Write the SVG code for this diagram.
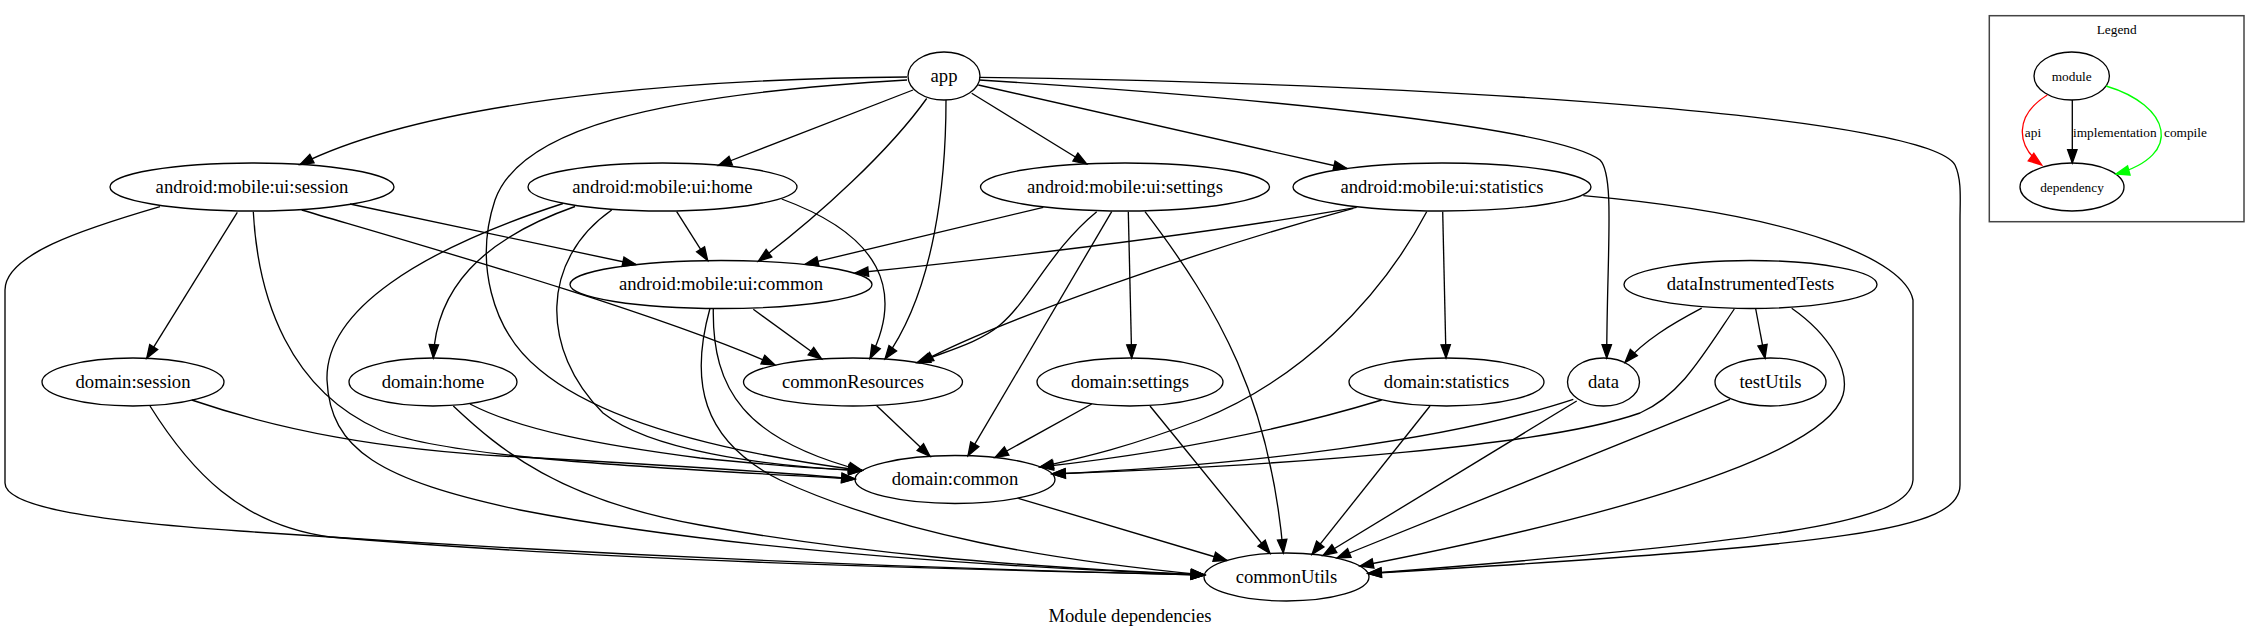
<svg xmlns="http://www.w3.org/2000/svg" width="2260" height="639" viewBox="0 0 2260 639">
<style>
.nd ellipse{fill:none;stroke:#000;stroke-width:1.33}
.nd text{font-family:"Liberation Serif","Times New Roman",serif;font-size:18.67px;text-anchor:middle;fill:#000}
.lg ellipse{fill:none;stroke:#000;stroke-width:1.33}
.lg text{font-family:"Liberation Serif","Times New Roman",serif;font-size:13.33px;fill:#000}
#edges path{fill:none;stroke:#000;stroke-width:1.33;marker-end:url(#ah)}
.title{font-family:"Liberation Serif","Times New Roman",serif;font-size:18.67px;text-anchor:middle}
</style>
<defs>
<marker id="ah" viewBox="-2 -2 18 13.4" markerWidth="18" markerHeight="13.4" refX="13.3" refY="4.7" orient="auto" markerUnits="userSpaceOnUse"><path d="M0,0 L13.3,4.7 L0,9.4 Z" fill="#000" stroke="#000" stroke-width="1.33"/></marker>
<marker id="ahr" viewBox="-2 -2 18 13.4" markerWidth="18" markerHeight="13.4" refX="13.3" refY="4.7" orient="auto" markerUnits="userSpaceOnUse"><path d="M0,0 L13.3,4.7 L0,9.4 Z" fill="#f00" stroke="#f00" stroke-width="1.33"/></marker>
<marker id="ahg" viewBox="-2 -2 18 13.4" markerWidth="18" markerHeight="13.4" refX="13.3" refY="4.7" orient="auto" markerUnits="userSpaceOnUse"><path d="M0,0 L13.3,4.7 L0,9.4 Z" fill="#0f0" stroke="#0f0" stroke-width="1.33"/></marker>
</defs>
<rect x="0" y="0" width="2260" height="639" fill="#fff"/>

<g id="edges">
<path d="M907,77 C760,78 450,90 300,164.5"/>
<path d="M907,80 C650,95 520,130 495,200 C475,260 490,330 540,370 C600,420 720,452 862,470.5"/>
<path d="M913,90 L718.3,165.5"/>
<path d="M926.7,98.5 C890,150 820,215 758.3,261.2"/>
<path d="M946,100 C946,180 935,290 885,359"/>
<path d="M971.7,93.3 L1086.7,164"/>
<path d="M978.3,85 L1347,168.5"/>
<path d="M979.3,80 C1300,100 1560,130 1600,160 C1615,175 1607,250 1606.7,358"/>
<path d="M979.3,77.3 C1500,85 1930,120 1955,165 C1962,180 1960,200 1960,220 L1960,485 C1960,530 1850,545 1368,573.5"/>

<path d="M237.3,212.3 L146.7,358.3"/>
<path d="M160,206.7 C80,230 5,255 5,290 L5,483 C5,505 80,520 240,531 C600,556 900,568 1204.5,575"/>
<path d="M253.3,211.7 C258,300 290,390 380,430 C450,460 700,470 855,479"/>
<path d="M301.7,210 C420,245 650,310 775,365"/>
<path d="M350,204 L636,264.5"/>

<path d="M676.7,211.7 L707.7,260.5"/>
<path d="M781.7,199 C880,235 905,290 870,358.4"/>
<path d="M575,206.5 C480,240 436,290 433.3,358"/>
<path d="M563,203.5 C420,250 325,310 327,380 C330,450 380,480 520,510 C700,545 950,565 1204.5,575"/>
<path d="M611.7,210 C540,260 540,350 603,413 C650,450 760,466 862,470.5"/>

<path d="M753.3,309.3 L821.7,359"/>
<path d="M713.3,308.3 C712,390 745,440 862,470.5"/>
<path d="M710,308.3 C690,380 700,440 780,480 C900,535 1050,560 1204.5,575"/>

<path d="M1043.3,207.3 L805,264.4"/>
<path d="M1096.7,211.7 C1050,250 1030,300 1000,325 C980,342 950,350 917,362.7"/>
<path d="M1111.7,211.7 L968,455.7"/>
<path d="M1128.3,211.7 L1131.7,358"/>
<path d="M1145,211.7 C1220,310 1270,400 1283.3,553"/>

<path d="M1356.7,207.3 C1200,235 1000,258 855,273"/>
<path d="M1353.3,208.3 C1200,250 1000,320 920,362.7"/>
<path d="M1426.7,211.7 C1380,300 1300,380 1200,420 C1120,450 1080,458 1040,467"/>
<path d="M1442.7,211.7 L1446,358"/>
<path d="M1583.3,195.7 C1800,215 1905,260 1913,300 L1913,480 C1910,520 1800,540 1368,573.5"/>

<path d="M1701.7,308.2 C1670,325 1645,340 1625,362.5"/>
<path d="M1734.3,309 C1700,360 1680,395 1640,413 C1550,445 1300,465 1052,474"/>
<path d="M1755.7,309 L1765,358.2"/>
<path d="M1791.7,308.2 C1830,335 1850,370 1843,395 C1830,440 1700,500 1360,566"/>

<path d="M191.7,400 C280,430 380,450 520,457 C700,467 800,474 855,479"/>
<path d="M150,406 C190,470 240,525 330,537 C600,560 900,568 1204.5,575"/>
<path d="M470,404 C520,430 600,445 700,458 C780,466 820,469 862,470.5"/>
<path d="M453.3,406 C500,450 560,500 700,525 C850,552 1000,566 1204.5,575"/>
<path d="M876.7,405.7 L930,456.3"/>
<path d="M1091.7,404 L995,457.5"/>
<path d="M1150,406 L1270,553.5"/>
<path d="M1381.7,400 C1250,440 1120,458 1040,467"/>
<path d="M1430,406 L1312,554.4"/>
<path d="M1573.3,399.3 C1450,440 1250,465 1052,474"/>
<path d="M1576.7,401 L1323,555.5"/>
<path d="M1730,399.3 L1337,558"/>
<path d="M1018.3,498.3 L1227,560.5"/>
</g>

<g id="app" class="nd"><ellipse cx="944" cy="76" rx="36" ry="24"/><text x="944" y="81.6">app</text></g>
<g id="ui_session" class="nd"><ellipse cx="252" cy="187" rx="142" ry="24"/><text x="252" y="192.6">android:mobile:ui:session</text></g>
<g id="ui_home" class="nd"><ellipse cx="662.5" cy="187" rx="134.5" ry="24"/><text x="662.5" y="192.6">android:mobile:ui:home</text></g>
<g id="ui_settings" class="nd"><ellipse cx="1125" cy="187" rx="144.5" ry="24"/><text x="1125" y="192.6">android:mobile:ui:settings</text></g>
<g id="ui_statistics" class="nd"><ellipse cx="1442" cy="187" rx="149" ry="24"/><text x="1442" y="192.6">android:mobile:ui:statistics</text></g>
<g id="ui_common" class="nd"><ellipse cx="721" cy="284.5" rx="151" ry="24"/><text x="721" y="290.1">android:mobile:ui:common</text></g>
<g id="dataInstrumentedTests" class="nd"><ellipse cx="1750.5" cy="284.5" rx="126.5" ry="24"/><text x="1750.5" y="290.1">dataInstrumentedTests</text></g>
<g id="domain_session" class="nd"><ellipse cx="133" cy="382" rx="91" ry="24"/><text x="133" y="387.6">domain:session</text></g>
<g id="domain_home" class="nd"><ellipse cx="433" cy="382" rx="84" ry="24"/><text x="433" y="387.6">domain:home</text></g>
<g id="commonResources" class="nd"><ellipse cx="853" cy="382" rx="109.5" ry="24"/><text x="853" y="387.6">commonResources</text></g>
<g id="domain_settings" class="nd"><ellipse cx="1130" cy="382" rx="93" ry="24"/><text x="1130" y="387.6">domain:settings</text></g>
<g id="domain_statistics" class="nd"><ellipse cx="1446.5" cy="382" rx="97.5" ry="24"/><text x="1446.5" y="387.6">domain:statistics</text></g>
<g id="data" class="nd"><ellipse cx="1603.5" cy="382" rx="36" ry="24"/><text x="1603.5" y="387.6">data</text></g>
<g id="testUtils" class="nd"><ellipse cx="1770.5" cy="382" rx="55.5" ry="24"/><text x="1770.5" y="387.6">testUtils</text></g>
<g id="domain_common" class="nd"><ellipse cx="955" cy="479.5" rx="100" ry="24"/><text x="955" y="485.1">domain:common</text></g>
<g id="commonUtils" class="nd"><ellipse cx="1286.5" cy="577" rx="82.5" ry="24"/><text x="1286.5" y="582.6">commonUtils</text></g>

<text class="title" x="1130" y="622">Module dependencies</text>

<g id="legend" class="lg">
<rect x="1989.3" y="15.7" width="254.7" height="206" fill="none" stroke="#444" stroke-width="1.5"/>
<text x="2116.7" y="34" text-anchor="middle">Legend</text>
<g id="legend_module"><ellipse cx="2071.7" cy="76" rx="37.7" ry="24"/><text x="2071.7" y="81" text-anchor="middle">module</text></g>
<g id="legend_dependency"><ellipse cx="2072" cy="187" rx="52" ry="24"/><text x="2072" y="192" text-anchor="middle">dependency</text></g>
<g id="legend_edges">
<path d="M2047.3,95 C2015,115 2015,145 2041.7,165" fill="none" stroke="#f00" stroke-width="1.33" marker-end="url(#ahr)"/>
<path d="M2072.3,100 L2072.3,163" fill="none" stroke="#000" stroke-width="1.33" marker-end="url(#ah)"/>
<path d="M2106,86 C2170,105 2185,155 2116,174" fill="none" stroke="#0f0" stroke-width="1.33" marker-end="url(#ahg)"/>
<text x="2033" y="137" text-anchor="middle">api</text>
<text x="2073" y="137">implementation</text>
<text x="2164" y="137">compile</text>
</g>
</g>
</svg>
